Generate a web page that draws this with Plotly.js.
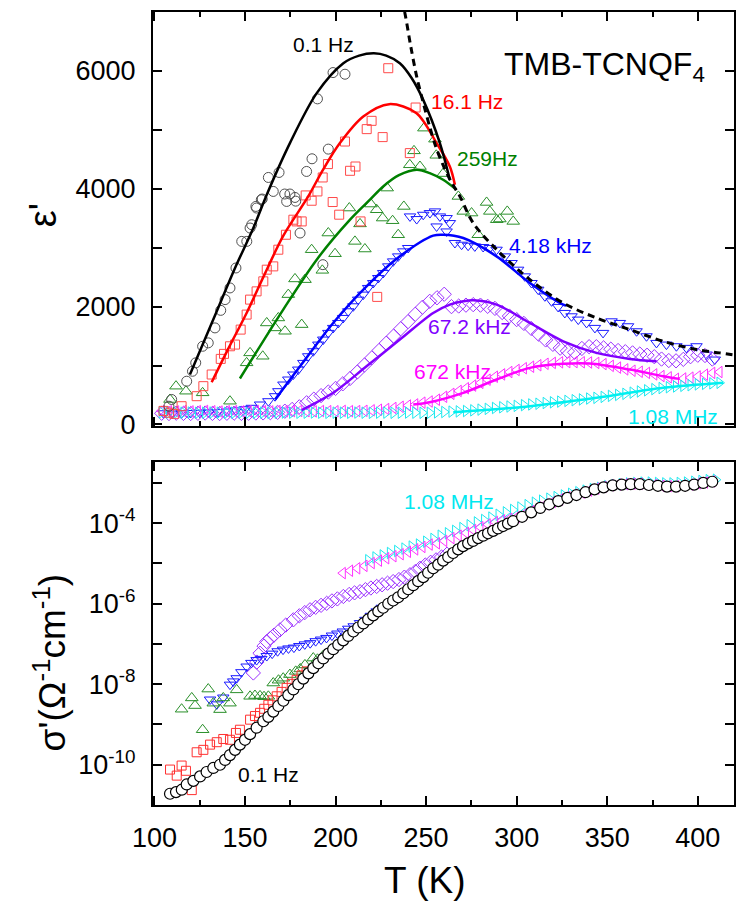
<!DOCTYPE html>
<html>
<head>
<meta charset="utf-8">
<script src="https://cdn.plot.ly/plotly-3.0.1.min.js"></script>
<style>html,body{margin:0;padding:0;background:#fff;}#plot{width:747px;height:917px;}</style>
</head>
<body>
<div id="plot"></div>
<script>
// ---------------- TOP PANEL: epsilon' vs T ----------------
const tGrid = [104,108,112,116,120,124,128,132,136,140,144,148,152,156,160,164,168,172,176,180,184,188,192,196,200,204,208,212,216,220,224,228,232,236,240,244,248,252,256,260,264,268,272,276,280,284,288,292,296,300,304,308,312,316,320,324,328,332,336,340,344,348,352,356,360,364,368,372,376,380,384,388,392,396,400,404,408,412];

const cyanTopE = [205,200,198,200,202,198,200,203,200,198,200,202,199,200,201,198,200,202,200,199,200,203,200,198,201,200,199,202,200,198,200,201,199,200,202,200,198,
  198,205,212,218,222,228,240,252,265,280,292,305,316,328,340,352,364,376,388,400,412,425,440,452,468,485,502,520,540,560,580,600,618,632,645,656,666,680,690,698,707];

const magentaTopE = [230,225,220,228,222,226,230,224,220,226,228,222,225,230,226,222,228,224,226,230,225,222,228,226,224,230,226,228,232,240,250,262,280,300,322,
  340,370,390,420,470,520,570,615,660,706,760,810,850,890,925,955,980,1005,1030,1045,1055,1058,1058,1056,1052,1045,1025,995,965,935,912,895,875,850,822,800,775,780,795,815,845,875,890];

const purpleTopE = [190,185,192,188,186,190,194,188,185,190,192,188,190,194,196,200,205,225,255,300,
  368,430,490,550,612,690,780,890,1010,1130,1255,1380,1500,1625,1745,1870,1990,2090,2150,2210,2000,2010,2025,2034,2025,2005,1970,1900,1840,1780,1715,1630,1535,1435,1360,1295,1245,1225,1290,1320,1320,1300,1278,1255,1235,1215,1195,1175,1150,1110,1085,1080,1105,1150,1175,1170,1110,null];

const blueTopT = [105,110,115,120,125,130,135,140,145,150,
  153.7,158.3,162.9,166.6,168.4,171.2,173.9,176.7,179.4,182.2,184.9,187.7,190.5,193.2,196,198.7,201.5,204.2,207,209.8,212.5,215.3,218,220.8,223.6,226.3,229.1,231.8,234.6,237.4,240.1,
  241.1,244.8,248.4,252.1,254.9,257.6,261.3,263.1,
  255.8,261.3,265.9,269.6,273.2,276.9,281.5,285.2,288.9,293.5,297.2,300.8,304.5,308.2,311.9,315.6,319.3,322.9,326.6,330.3,334,338.6,343.2,347.7,352.4,357,361.5,366.2,371.7,377.2,382.7,388.2,393.7,399.3,404.8,409.4];
const blueTopE = [190,185,190,195,200,205,210,220,240,260,
  283,339,395,480,565,678,763,848,932,1045,1158,1243,1356,1441,1554,1639,1723,1808,1921,2006,2119,2204,2317,2401,2486,2571,2684,2768,2853,2938,2995,
  3531,3486,3559,3588,3616,3531,3503,3418,
  3361,3276,3080,3051,3034,3022,3012,2995,2966,2853,2740,2627,2514,2401,2288,2175,2090,1995,1893,1836,1780,1723,1639,1554,1751,1723,1667,1582,1497,1384,1356,1328,1300,1328,1187,1102];

const greenTopT = [108.6,111.9,117.4,126.6,141.7,150.9,152.8,159.8,162,166.6,168.4,172.1,173.9,177.6,181.3,183.1,186.8,192.7,196,199.7,207.6,210.7,213.5,216.2,219.5,222.7,226,228.5,231.5,234.6,237.7,241,243.3,246.6,248.8,254.9,255.6,259.4,267.8,270.5,275.1,278.8,283.4,285.2,289,290.7,294.8,298.1];
const greenTopE = [424,650,565,537,395,1046,1215,1158,1723,1639,1808,1582,2204,2470,1695,2458,2966,2616,3249,2898,3673,3107,3404,2978,3741,3644,3503,4012,3458,3220,3700,4407,4644,4378,5029,4842,4568,4258,3870,3616,3588,3220,3768,3616,3475,3487,3616,3446];

const redTopT = [105,108,111,115,123.3,127,131.6,136.6,138.4,141.7,144.5,147.6,150.9,152.8,156.4,160.1,162,165.6,168.4,172.6,176.7,178.5,181.3,183.5,186.8,190,192.9,195.8,198.4,202,205.2,208,211,213.8,217.2,219.9,223,226,229.1,241,244.2];
const redTopE = [230,200,180,310,480,650,848,1113,1198,1327,1356,1610,1865,2119,2259,2429,2627,2683,2966,3220,3475,3446,3446,3887,3797,3955,4192,4419,3775,3560,4802,4305,4378,3446,5012,5153,2165,4877,6046,4605,5379];

const blackTopT = [108,109.5,117.8,121,122.8,126.6,129.7,133.4,136.6,139,141.7,145,148.2,151,152.8,153.7,156,156.4,159,159.5,162.9,165.6,168.8,171.9,173,174.8,177.6,178,180.4,184,187,190,193,196,198.6,205.2];
const blackTopE = [310,424,734,903,1046,1327,1385,1639,1937,2119,2317,2656,3107,3107,3334,3390,3700,3673,3814,3826,4192,3955,4277,3911,3785,3911,3853,3790,3249,4294,4509,5526,2712,4673,5972,5944];

// fit curves
const fitBlackT = [119.6,133,144.5,154.6,162,174.8,189.6,204.3,213,221.2,228,235.5,242,248.4,257.6,263.1];
const fitBlackE = [847,1820,2656,3334,3899,4775,5623,6131,6260,6300,6260,6131,5880,5509,4775,4153];
const fitRedT = [131.6,141,150.9,161,171.1,184.9,193.2,202.4,215.3,229.6,244.7,255.8,263.1,265.9];
const fitRedE = [717,1300,1893,2560,3200,3870,4330,4775,5226,5436,5283,4775,4378,4068];
const fitGreenT = [147.2,171.1,189.6,208,219,226.3,235,244.8,252,259.4,266.8];
const fitGreenE = [780,1949,2797,3475,3814,4039,4230,4322,4266,4153,3983];
const fitBlueT = [166.6,180.4,198.7,217.1,235.5,253.9,259.4,270.5,288.9,307.3,325.7,327.5];
const fitBlueE = [424,988,1723,2344,2853,3204,3220,3164,2853,2401,2034,2017];
const fitPurpleT = [181.3,198.7,217.1,235.5,253.9,263.1,270.5,276,288.9,307.3,325.7,344.1,362.5,377.2];
const fitPurpleE = [243,537,988,1441,1893,2034,2090,2107,2034,1723,1412,1215,1113,1073];
const fitMagentaT = [242.9,252,270.5,288.9,307.3,325.7,340.4,362.5,380.9,390];
const fitMagentaE = [339,378,537,763,961,1029,1034,932,819,774];
const fitCyanT = [265,307.3,344.1,380.9,414];
const fitCyanE = [209,310,452,622,707];
const curieT = [235,238.3,241.5,244.8,248.5,252,255.5,259.4,264,268.7,276,289,307.3,325.7,344,362.5,380.9,399.3,412,421];
const curieE = [7400,6978,6420,5904,5450,5050,4700,4400,4110,3870,3418,2966,2458,2062,1808,1610,1412,1271,1215,1175];

// ---------------- BOTTOM PANEL: log10 sigma' vs T ----------------
const circBT = [108.6,111.9,115.1,117.8,121.5,125.2,128.8,132.5,136.2,139,141.7,144.5,147.2,150,152.8,156.4,160.1,162.9,165.6,168.4,171.2,173.9,176.7,179.4,182.2,185,187.7,190.5,193.2,196,198.7,201.5,204.2,207,209.8,212.5,215.3,218,220.8,223.6,226.3,229.1,231.8,234.6,237.4,240.1,242.9,245.6,248.4,251.1,253.9,256.7,259.4,262.2,264.9,267.7,270.4,273.2,275.9,278.7,281.5,284.2,287,289.7,292.5,295.2,298,303,308,313,318,323,328,333,338,343,348,353,358,363,368,373,378,383,388,393,398,403,408];
const circBL = [-10.72,-10.68,-10.62,-10.49,-10.40,-10.29,-10.18,-10.08,-10.00,-9.88,-9.76,-9.63,-9.50,-9.38,-9.24,-9.08,-8.92,-8.81,-8.68,-8.54,-8.41,-8.27,-8.13,-8.00,-7.86,-7.73,-7.60,-7.48,-7.36,-7.24,-7.13,-7.02,-6.91,-6.80,-6.69,-6.59,-6.49,-6.39,-6.29,-6.19,-6.10,-6.00,-5.92,-5.84,-5.74,-5.64,-5.54,-5.44,-5.34,-5.23,-5.12,-5.03,-4.93,-4.84,-4.74,-4.65,-4.57,-4.50,-4.44,-4.37,-4.31,-4.25,-4.19,-4.13,-4.07,-4.01,-3.95,-3.84,-3.73,-3.62,-3.53,-3.45,-3.37,-3.30,-3.23,-3.16,-3.11,-3.06,-3.04,-3.03,-3.03,-3.05,-3.07,-3.09,-3.09,-3.07,-3.04,-3.00,-2.97];

const cyanBT = [218,222,226,230,234,238,242,246,250,254,258,262,266,270,274,278,282,286,290,294,298,302,306,310,314,318,322,326,330,334,338,342,346,350,354,358,362,366,370,374,378,382,386,390,394,398,402,406,410];
const cyanBL = [-4.92,-4.85,-4.80,-4.74,-4.69,-4.63,-4.58,-4.53,-4.46,-4.39,-4.31,-4.25,-4.19,-4.12,-4.05,-3.98,-3.92,-3.86,-3.79,-3.73,-3.67,-3.61,-3.55,-3.49,-3.44,-3.39,-3.35,-3.31,-3.27,-3.23,-3.19,-3.15,-3.12,-3.08,-3.05,-3.03,-3.01,-3.00,-2.99,-2.99,-3.00,-3.01,-3.01,-3.00,-2.99,-2.97,-2.95,-2.93,-2.92];

const magBT = [204,208,212,216,220,224,228,232,236,240,244,248,252,256,260,264,268,272,276,280,284,288,292,296,300,304,308,312,316,320,324,328,332,336,340,344,348,352,356,360,364,368,372,376,380,384,388,392,396,400,404,408];
const magBL = [-5.24,-5.18,-5.12,-5.06,-4.99,-4.93,-4.87,-4.82,-4.77,-4.71,-4.65,-4.59,-4.53,-4.50,-4.44,-4.37,-4.31,-4.24,-4.17,-4.10,-4.03,-3.97,-3.93,-3.89,-3.85,-3.78,-3.70,-3.61,-3.53,-3.47,-3.41,-3.35,-3.29,-3.24,-3.19,-3.14,-3.10,-3.06,-3.04,-3.03,-3.02,-3.02,-3.04,-3.05,-3.07,-3.08,-3.08,-3.06,-3.04,-3.01,-2.99,-2.96];

const purpBT = [154.6,156.5,158.3,160.5,162,164,166,169.3,172.5,176.7,180,183,185.9,189,192,195.1,198,201,204.3,207.5,210.5,213.5,216.5,219.5,222.7,225.7,228.7,231.8,235,238,241.1,244,246.6,249.5,252.5,255.5,258.5,261.5];
const purpBL = [-7.72,-7.45,-7.23,-7.05,-6.94,-6.86,-6.78,-6.65,-6.53,-6.40,-6.30,-6.22,-6.15,-6.09,-6.04,-5.99,-5.93,-5.88,-5.82,-5.77,-5.73,-5.70,-5.65,-5.61,-5.57,-5.53,-5.49,-5.45,-5.40,-5.34,-5.28,-5.20,-5.12,-5.04,-4.97,-4.91,-4.84,-4.77];

const blueBT = [130.7,134.4,138,141.7,143.5,145.4,148,150.9,153.5,156.4,159,162,165,168,171,174,177,180,183,186,189,192,195,198,201,204,207,210,213.5,216.5,219.5,222.7,225.5];
const blueBL = [-8.38,-8.50,-8.33,-8.01,-7.93,-7.85,-7.70,-7.56,-7.47,-7.40,-7.37,-7.30,-7.24,-7.18,-7.14,-7.11,-7.09,-7.05,-7.01,-6.98,-6.93,-6.89,-6.85,-6.79,-6.74,-6.69,-6.62,-6.56,-6.48,-6.40,-6.30,-6.19,-6.10];

const greenBT = [115,120.6,122.4,126.6,129.7,132.5,136.2,138,141.7,145.4,152.8,155.5,158.3,160.5,162.9,165.6,168.5,171.1,174.8,178,180.5,183.1,187.7,190,193];
const greenBL = [-8.62,-8.34,-8.53,-9.13,-8.12,-8.47,-8.63,-8.34,-8.47,-8.14,-8.30,-8.28,-8.29,-8.31,-8.30,-7.97,-7.90,-7.85,-7.76,-7.68,-7.62,-7.52,-7.35,-7.38,-7.30];

const redBT = [108.6,112.3,115,117.4,120.6,123.3,127,130.7,134.4,138,141.7,145,147.2,152.8,155.5,158.3,160.6,162.9,165.2,167.5,170.2,173,175.8,178.5,181.2,184];
const redBL = [-10.12,-10.27,-10.02,-10.15,-10.63,-9.69,-9.63,-9.50,-9.44,-9.36,-9.38,-9.21,-9.13,-8.88,-8.79,-8.71,-8.61,-8.51,-8.40,-8.30,-8.19,-8.09,-7.99,-7.89,-7.78,-7.68];

const xTicks = [100,150,200,250,300,350,400];
const sigmaTickVals = [1e-10,1e-9,1e-8,1e-7,1e-6,1e-5,1e-4,1e-3];
const sigmaTickText = ['10<sup>-10</sup>','','10<sup>-8</sup>','','10<sup>-6</sup>','','10<sup>-4</sup>',''];

// ---------------- build ----------------
const FONT = 'Liberation Sans, Arial, Helvetica, sans-serif';
const pw = v => v.map(e => e === null ? null : Math.pow(10, e));

function mk(x, y, sym, color, size, xa, ya, lw) {
  return {x: x, y: y, type: 'scatter', mode: 'markers', xaxis: xa, yaxis: ya, hoverinfo: 'skip',
    marker: {symbol: sym, size: size, color: color, line: {width: lw || 1, color: color}}};
}
function ln(x, y, color, w, dash) {
  return {x: x, y: y, type: 'scatter', mode: 'lines', xaxis: 'x2', yaxis: 'y2', hoverinfo: 'skip',
    line: {color: color, width: w, shape: 'spline', smoothing: 0.9, dash: dash || 'solid'}};
}

const data = [
  // top markers
  mk(blueTopT, blueTopE, 'triangle-down-open', '#1a1aff', 10, 'x2', 'y2'),
  mk(tGrid, purpleTopE, 'diamond-open', '#9b30ff', 11, 'x2', 'y2'),
  mk(tGrid, magentaTopE, 'triangle-left-open', '#ff33ff', 10, 'x2', 'y2'),
  mk(tGrid, cyanTopE, 'triangle-right-open', '#1ee8ee', 10, 'x2', 'y2'),
  mk(greenTopT, greenTopE, 'triangle-up-open', '#2a8f2a', 11, 'x2', 'y2'),
  mk(redTopT, redTopE, 'square-open', '#ff4a4a', 9, 'x2', 'y2'),
  mk(blackTopT, blackTopE, 'circle-open', '#505050', 10, 'x2', 'y2'),
  // top fits
  ln(fitCyanT, fitCyanE, '#00f0f0', 2.5),
  ln(fitMagentaT, fitMagentaE, '#ff00ff', 2.5),
  ln(fitPurpleT, fitPurpleE, '#8000ff', 2.5),
  ln(fitBlueT, fitBlueE, '#0000ff', 2.5),
  ln(fitGreenT, fitGreenE, '#008000', 2.5),
  ln(fitRedT, fitRedE, '#ff0000', 2.5),
  ln(fitBlackT, fitBlackE, '#000000', 2.5),
  ln(curieT, curieE, '#000000', 3, '7px,5px'),
  // bottom markers
  mk(cyanBT, pw(cyanBL), 'triangle-right-open', '#1ee8ee', 10, 'x', 'y'),
  mk(magBT, pw(magBL), 'triangle-left-open', '#ff33ff', 10, 'x', 'y'),
  mk(purpBT, pw(purpBL), 'diamond-open', '#9b30ff', 11, 'x', 'y'),
  mk(blueBT, pw(blueBL), 'triangle-down-open', '#1a1aff', 10, 'x', 'y'),
  mk(greenBT, pw(greenBL), 'triangle-up-open', '#2a8f2a', 11, 'x', 'y'),
  mk(redBT, pw(redBL), 'square-open', '#ff3030', 9, 'x', 'y'),
  {x: circBT, y: pw(circBL), type: 'scatter', mode: 'markers', xaxis: 'x', yaxis: 'y', hoverinfo: 'skip',
   marker: {symbol: 'circle', size: 11, color: '#ffffff', line: {width: 1.2, color: '#000000'}}}
];

const axCommon = {
  showline: true, linecolor: '#000', linewidth: 2, mirror: 'allticks',
  ticks: 'inside', ticklen: 9, tickwidth: 2, tickcolor: '#000',
  showgrid: false, zeroline: false,
  tickfont: {family: FONT, size: 27, color: '#000'}
};

function lab(xr, yr, x, y, text, size, color, extra) {
  return Object.assign({xref: xr, yref: yr, x: x, y: y, text: text, showarrow: false,
    xanchor: 'center', yanchor: 'middle', font: {family: FONT, size: size, color: color}}, extra || {});
}

const layout = {
  width: 747, height: 917,
  margin: {l: 153, r: 13, t: 12, b: 112, pad: 0},
  paper_bgcolor: '#fff', plot_bgcolor: '#fff',
  showlegend: false,
  font: {family: FONT, color: '#000'},
  xaxis: Object.assign({}, axCommon, {
    domain: [0, 1], anchor: 'y', range: [99.2, 420],
    tickmode: 'array', tickvals: xTicks, ticklabelstandoff: 8,
    minor: {dtick: 25, tick0: 100, ticks: 'inside', ticklen: 5, tickwidth: 2, tickcolor: '#000'}
  }),
  xaxis2: Object.assign({}, axCommon, {
    domain: [0, 1], anchor: 'y2', range: [99.2, 420],
    tickmode: 'array', tickvals: xTicks, showticklabels: false,
    minor: {dtick: 25, tick0: 100, ticks: 'inside', ticklen: 5, tickwidth: 2, tickcolor: '#000'}
  }),
  yaxis: Object.assign({}, axCommon, {
    domain: [0, 0.4325], anchor: 'x', type: 'log', range: [-11, -2.48],
    tickmode: 'array', tickvals: sigmaTickVals, ticktext: sigmaTickText, ticklabelstandoff: 10
  }),
  yaxis2: Object.assign({}, axCommon, {
    domain: [0.478, 1], anchor: 'x2', range: [-25, 7000],
    tickmode: 'linear', tick0: 0, dtick: 2000, ticklabelstandoff: 10,
    minor: {dtick: 1000, tick0: 0, ticks: 'inside', ticklen: 9, tickwidth: 2, tickcolor: '#000'}
  }),
  annotations: [
    lab('x2', 'y2', 193.6, 6441, '0.1 Hz', 21, '#000'),
    lab('x2', 'y2', 272.5, 5475, '16.1 Hz', 21, '#ff0000'),
    lab('x2', 'y2', 284.1, 4509, '259Hz', 21, '#008000'),
    lab('x2', 'y2', 318.9, 3034, '4.18 kHz', 21, '#0000ff'),
    lab('x2', 'y2', 274.2, 1661, '67.2 kHz', 21, '#8000ff'),
    lab('x2', 'y2', 264.8, 898, '672 kHz', 21, '#ff00ff'),
    lab('x2', 'y2', 386.2, 136, '1.08 MHz', 21, '#00e8f0'),
    lab('x2', 'y2', 405, 6080, 'TMB-TCNQF<sub>4</sub>', 32, '#000', {xanchor: 'right'}),
    lab('x', 'y', 262.6, -3.45, '1.08 MHz', 21, '#00e8f0'),
    lab('x', 'y', 162.7, -10.25, '0.1 Hz', 21, '#000'),
    lab('paper', 'paper', -0.189, 0.744, "ε'", 38, '#000', {textangle: -90}),
    lab('paper', 'paper', -0.177, 0.18, "σ'(Ω<sup>-1</sup>cm<sup>-1</sup>)", 37, '#000', {textangle: -90}),
    lab('paper', 'paper', 0.468, -0.0946, 'T (K)', 37, '#000')
  ]
};

Plotly.newPlot('plot', data, layout, {staticPlot: true, displayModeBar: false});
</script>
</body>
</html>
